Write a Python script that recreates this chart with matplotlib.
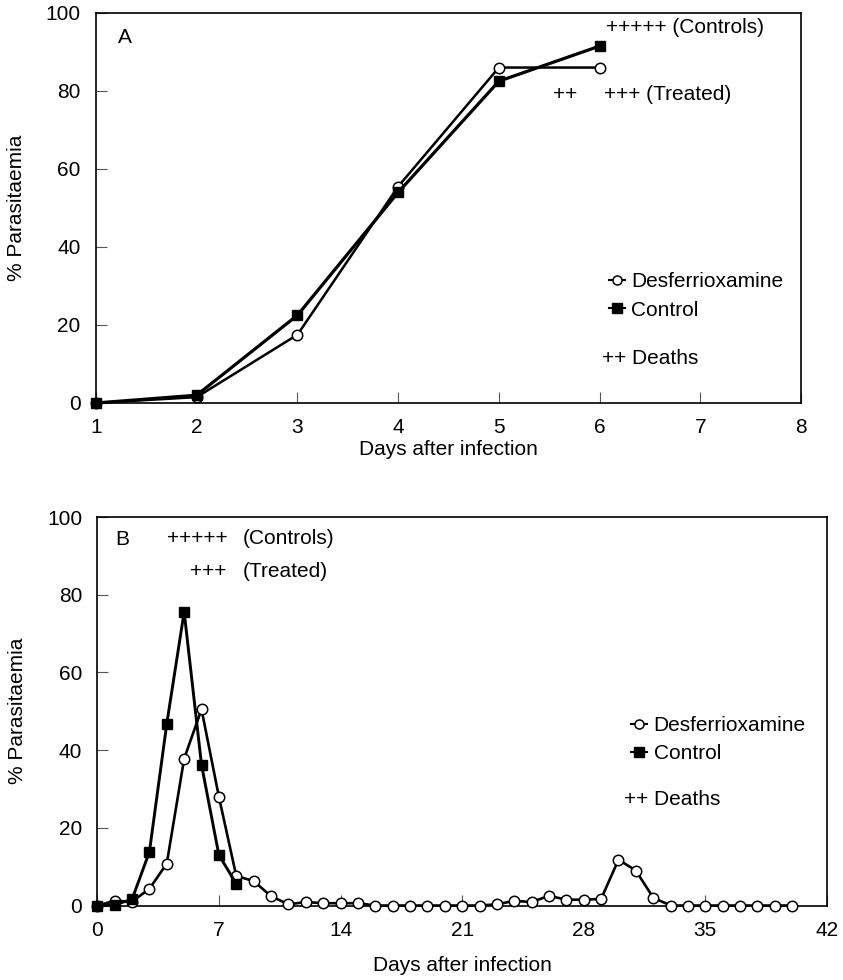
#!/usr/bin/env python3
"""
Parasitaemia after infection, desferrioxamine vs control (panels A and B)
"""

import matplotlib
matplotlib.use('Agg')
import matplotlib.pyplot as plt


# panel A
days_a = [1, 2, 3, 4, 5, 6]
desf_a = [0, 1.5, 17.5, 55.5, 86, 86]
ctrl_a = [0, 2, 22.5, 54, 82.5, 91.5]

# panel B
days_b_desf = list(range(0, 41))
desf_b = [0, 1.2, 1, 4.3, 10.8, 37.8, 50.5, 28, 7.6, 6.3, 2.4,
          0.3, 0.9, 0.6, 0.6, 0.6, 0, 0, 0, 0, 0,
          0, 0, 0.3, 1.2, 0.9, 2.5, 1.5, 1.5, 1.7, 11.8,
          9, 2, 0, 0, 0, 0, 0, 0, 0, 0]
days_b_ctrl = [0, 1, 2, 3, 4, 5, 6, 7, 8]
ctrl_b = [0, 0.2, 1.6, 13.8, 46.8, 75.6, 36.2, 13, 5.6]

yticks = [0, 20, 40, 60, 80, 100]
xticks_a = [1, 2, 3, 4, 5, 6, 7, 8]
xticks_b = [0, 7, 14, 21, 28, 35, 42]

FS = 15
plt.rcParams['font.family'] = ['Liberation Sans', 'DejaVu Sans']
plt.rcParams['font.size'] = FS


def style_axes(ax, xticks, xlim, xlabelpad):
    ax.set_xlim(*xlim)
    ax.set_ylim(0, 100)
    ax.set_xticks(xticks)
    ax.set_yticks(yticks)
    ax.tick_params(axis='both', direction='in', length=8, width=0.8,
                   color='#555555', labelsize=FS)
    ax.tick_params(axis='y', pad=11)
    ax.tick_params(axis='x', pad=11)
    for s in ax.spines.values():
        s.set_linewidth(1.2)
    ax.set_ylabel('% Parasitaemia', fontsize=FS, labelpad=14)
    ax.set_xlabel('Days after infection', fontsize=FS, labelpad=xlabelpad)


def draw_panel(ax, xd, yd, xc, yc, lw_d, lw_c):
    ax.plot(xd, yd, '-', color='black', lw=lw_d, marker='o', ms=7.5,
            mfc='white', mec='black', mew=1.1, clip_on=False, zorder=3,
            label='Desferrioxamine')
    ax.plot(xc, yc, '-', color='black', lw=lw_c, marker='s', ms=6.5,
            mfc='black', mec='black', clip_on=False, zorder=4,
            label='Control')


def add_legend(ax, x, y):
    leg = ax.legend(loc='upper left', bbox_to_anchor=(x, y), frameon=False,
                    handlelength=0.8, handletextpad=0.3, labelspacing=0.45,
                    borderpad=0, borderaxespad=0, fontsize=FS)
    for h in leg.legend_handles:
        h.set_linewidth(1.5)
        h.set_markersize(6.5)


fig = plt.figure(figsize=(8.43, 9.8), dpi=100)
ax1 = fig.add_axes([0.1139, 0.5888, 0.8363, 0.398])
ax2 = fig.add_axes([0.1154, 0.076, 0.8656, 0.3964])

# --- panel A
draw_panel(ax1, days_a, desf_a, days_a, ctrl_a, 1.8, 2.3)
style_axes(ax1, xticks_a, (1, 8), 2)
ax1.text(0.031, 0.936, 'A', transform=ax1.transAxes, ha='left', va='center', fontsize=FS)
ax1.text(0.723, 0.9615, '+++++ (Controls)', transform=ax1.transAxes,
         ha='left', va='center', fontsize=FS)
ax1.text(0.648, 0.79, '++', transform=ax1.transAxes, ha='left', va='center', fontsize=FS)
ax1.text(0.72, 0.79, '+++ (Treated)', transform=ax1.transAxes,
         ha='left', va='center', fontsize=FS)
add_legend(ax1, 0.727, 0.335)
ax1.text(0.718, 0.115, '++ Deaths', transform=ax1.transAxes,
         ha='left', va='center', fontsize=FS)

# --- panel B
draw_panel(ax2, days_b_desf, desf_b, days_b_ctrl, ctrl_b, 1.9, 2.1)
style_axes(ax2, xticks_b, (0, 42), 12)
ax2.text(0.024, 0.943, 'B', transform=ax2.transAxes, ha='left', va='center', fontsize=FS)
ax2.text(0.095, 0.944, '+++++', transform=ax2.transAxes, ha='left', va='center', fontsize=FS)
ax2.text(0.200, 0.944, '(Controls)', transform=ax2.transAxes, ha='left', va='center', fontsize=FS)
ax2.text(0.127, 0.859, '+++', transform=ax2.transAxes, ha='left', va='center', fontsize=FS)
ax2.text(0.200, 0.859, '(Treated)', transform=ax2.transAxes, ha='left', va='center', fontsize=FS)
add_legend(ax2, 0.731, 0.488)
ax2.text(0.722, 0.274, '++ Deaths', transform=ax2.transAxes,
         ha='left', va='center', fontsize=FS)

fig.savefig('out.png', dpi=100)
